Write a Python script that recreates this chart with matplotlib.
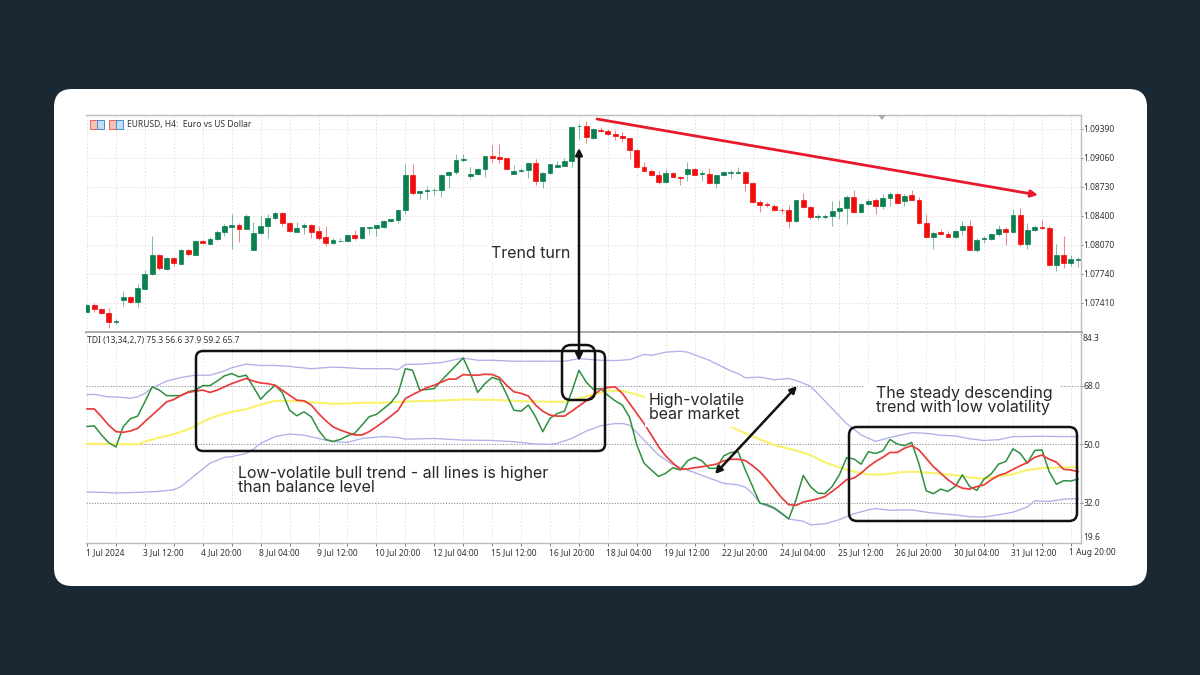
import matplotlib
matplotlib.use("Agg")
import matplotlib.pyplot as plt
from matplotlib.patches import FancyBboxPatch, FancyArrowPatch, Rectangle, Polygon
from matplotlib.transforms import ScaledTranslation
import numpy as np

W, H = 1200, 675

# EURUSD H4 candles, in points above 1.07000
opens = [311,383,346,296,194,440,474,418,573,736,956,793,922,858,1017,960,1119,1085,1142,1214,
         1279,1298,1256,1013,1210,1282,1377,1438,1320,1222,1271,1298,1225,1157,1093,1112,1119,1180,1146,1267,
         1267,1275,1343,1358,1472,1867,1665,1681,1692,1692,1867,1901,2041,1859,1878,1931,2079,2068,2060,1882,
         1908,1923,2003,1802,1885,1961,1973,2026,2420,2424,2291,2382,2367,2333,2307,2284,2155,1954,1916,1867,
         1783,1889,1848,1874,1939,1874,1878,1775,1863,1885,1893,1904,1775,1559,1533,1510,1472,1464,1343,1582,
         1502,1389,1389,1400,1457,1495,1620,1442,1537,1578,1510,1605,1650,1567,1635,1586,1320,1161,1214,1199,
         1161,1237,1282,1017,1138,1138,1191,1252,1218,1408,1085,1237,1275,1263,839,956,861,903]
closes = [391,342,292,194,205,482,418,577,744,956,808,926,861,1017,968,1119,1097,1142,1218,1282,
          1298,1248,1396,1210,1282,1381,1434,1317,1229,1267,1298,1222,1153,1089,1131,1119,1180,1146,1271,1275,
          1294,1347,1362,1468,1870,1665,1681,1700,1700,1867,1904,2041,2052,1878,1935,2079,2060,2052,1931,1908,
          1927,2003,1802,1889,1988,1977,2026,2416,2428,2295,2390,2367,2329,2310,2288,2155,1954,1916,1863,1783,
          1885,1840,1836,1939,1870,1885,1775,1863,1897,1897,1904,1775,1559,1529,1521,1464,1464,1343,1578,1506,
          1389,1400,1400,1457,1495,1620,1445,1533,1574,1510,1601,1647,1548,1628,1586,1320,1161,1210,1199,1165,
          1233,1282,1017,1131,1150,1191,1252,1214,1408,1085,1241,1275,1260,839,956,861,907,911]
highs = [395,410,357,353,224,543,486,630,782,1169,964,933,933,1024,1028,1127,1127,1161,1237,1313,
         1419,1320,1427,1328,1396,1419,1445,1445,1332,1332,1320,1305,1282,1282,1146,1153,1191,1244,1279,1275,
         1301,1354,1370,1476,1988,1988,1700,1738,1722,1874,1912,2102,2109,1958,1950,2086,2204,2223,2064,1984,
         1942,2014,2052,1897,1995,2026,2060,2428,2443,2477,2398,2413,2386,2382,2356,2291,2162,2014,1931,1908,
         1939,1901,1851,2014,1950,1927,1950,1870,1908,1927,1958,1912,1783,1578,1555,1533,1495,1529,1586,1662,
         1510,1419,1419,1571,1586,1635,1700,1548,1590,1601,1647,1673,1662,1654,1700,1616,1419,1225,1252,1225,
         1244,1343,1351,1150,1169,1207,1294,1275,1483,1487,1324,1301,1351,1290,1078,1176,952,933]
lows = [305,304,289,122,175,372,410,364,566,729,782,782,835,850,941,956,1089,1078,1131,1169,
        1024,1104,1248,1009,1199,1150,1370,1286,1218,1214,1191,1153,1131,1055,1078,1100,1112,1123,1138,1199,
        1176,1267,1335,1320,1427,1639,1597,1597,1635,1616,1722,1874,2014,1825,1870,1844,2014,2003,1927,1874,
        1897,1832,1749,1719,1882,1958,1965,1958,2280,2234,2280,2356,2322,2261,2242,2052,1946,1908,1855,1760,
        1775,1829,1757,1798,1863,1794,1768,1722,1851,1829,1882,1684,1552,1445,1502,1457,1427,1260,1332,1495,
        1370,1358,1370,1290,1366,1305,1438,1434,1521,1419,1480,1514,1540,1510,1578,1313,1153,1024,1191,1157,
        1153,1169,1009,987,1093,1131,1169,1070,1210,1055,1021,1225,1252,827,774,804,827,820]

# TDI pane, fast and slow lines have one value per bar
tdi_green = [55.5,55.7,52.9,50.5,49.2,55.4,57.9,58.7,63.1,67.7,66.7,65.0,65.0,65.0,66.2,66.7,68.1,68.1,69.5,71.1,
             71.8,70.8,71.3,67.7,63.9,66.2,68.2,65.9,60.5,58.8,60.0,58.5,54.4,51.5,50.9,51.5,52.6,53.4,55.9,58.5,
             59.2,61.0,62.8,65.7,73.3,72.8,66.7,66.9,67.2,69.7,72.0,74.3,76.6,71.8,66.0,68.7,70.6,69.9,65.4,60.5,
             60.2,62.1,58.5,53.9,58.0,59.5,60.2,66.2,72.8,69.2,66.9,67.2,65.1,63.4,62.1,58.3,49.8,44.2,42.1,40.1,
             41.1,42.8,42.1,44.9,46.0,44.9,42.6,42.6,46.4,47.5,47.7,42.1,37.0,31.9,31.4,30.4,28.8,27.0,32.9,40.4,
             37.0,35.0,34.8,37.0,40.6,45.9,45.5,43.9,47.7,47.2,48.0,51.5,50.1,49.6,50.6,44.0,35.7,34.8,36.2,35.5,
             37.0,40.6,37.0,35.8,39.3,40.9,43.9,44.7,48.6,47.2,44.2,48.1,48.3,41.6,37.7,38.8,38.7,39.3]
tdi_red = [60.9,60.9,58.5,55.9,53.9,53.7,54.1,54.9,57.0,59.0,61.0,63.1,63.8,65.1,66.0,66.4,66.7,66.0,66.7,67.7,
           68.7,69.5,70.3,69.5,68.9,68.7,68.2,66.7,65.1,63.6,63.4,62.1,59.5,57.3,55.4,54.4,53.6,52.9,52.9,53.9,
           55.4,57.0,58.7,60.5,64.1,65.3,66.4,67.5,68.2,69.2,70.1,70.1,71.5,71.3,71.3,71.6,71.5,70.6,68.2,66.2,
           65.7,64.9,62.1,60.2,59.0,58.7,58.7,60.2,61.8,63.4,65.1,66.9,67.5,67.7,65.7,62.6,59.5,56.4,52.9,49.3,
           46.4,44.2,42.3,42.4,42.8,43.1,43.5,43.9,44.9,45.4,45.4,45.0,43.4,41.6,39.1,36.3,33.6,31.4,31.2,32.2,
           32.7,33.2,33.9,35.5,37.2,39.1,39.6,41.1,43.1,44.7,46.0,47.5,47.5,48.8,49.6,48.3,45.7,43.1,41.1,39.1,
           37.5,36.5,36.2,37.0,37.5,39.1,40.4,41.1,42.3,43.4,44.4,46.0,46.7,45.4,44.5,42.3,42.1,41.6]

yellow_bars = [0,7,8,10,12,14,16,18,20,22,24,26,28,30,32,34,36,38,40,42,44,46,48,52,56,60,64,66,68,70,72,74,76,77,
               89,92,95,98,100,102,104,106,108,110,112,114,116,118,120,122,124,126,128,130,132,134,136,137]
tdi_yellow = [50.2,50.0,50.8,52.1,53.1,54.6,57.0,58.8,60.0,60.8,62.2,63.4,63.4,63.2,62.8,62.5,62.6,62.8,62.8,62.9,63.2,63.3,63.4,63.8,63.7,63.3,63.1,63.1,64.1,65.4,66.5,66.5,65.3,64.6,
              55.4,52.4,49.8,48.1,46.7,44.4,42.9,41.6,40.7,40.7,41.3,41.6,41.3,40.9,40.5,39.8,39.4,40.1,40.8,42.1,42.7,42.8,43.0,42.9]

upper_bars = [0,1,3,4,6,7,8,9,10,11,13,15,17,19,20,22,24,26,28,31,34,36,38,42,43,44,46,49,52,54,56,59,64,66,68,71,73,75,77,78,80,82,83,86,89,90,
              91,93,95,97,98,100,101,103,105,107,109,111,114,116,118,120,122,124,126,128,130,132,134,137]
tdi_upper = [65.3,65.4,64.6,64.6,64.2,64.6,65.7,67.5,68.4,69.5,70.6,71.3,71.3,72.6,73.6,74.7,74.3,74.3,74.0,73.3,73.8,73.6,73.3,73.3,73.0,74.6,74.7,75.2,76.6,75.9,75.9,75.6,75.6,75.6,76.4,75.9,75.8,76.1,77.7,77.4,78.4,78.7,78.4,75.9,72.6,71.8,
             70.5,70.7,69.9,70.3,69.7,67.9,65.7,61.0,56.4,52.9,50.9,52.1,53.6,53.4,52.8,52.6,51.7,51.2,51.4,52.4,52.4,52.5,52.4,52.4]

lower_bars = [0,2,4,7,10,12,13,15,17,19,20,22,23,24,26,28,30,32,34,36,38,41,43,44,46,48,52,56,59,62,64,65,67,69,71,73,74,75,77,79,81,83,86,88,90,
              91,92,93,95,97,99,100,102,104,106,108,109,111,114,116,118,120,122,124,126,128,130,131,133,135,137]
tdi_lower = [35.3,35.2,35.0,35.2,35.5,36.0,37.0,40.6,44.2,46.0,46.2,47.2,48.5,50.3,52.4,53.2,52.8,51.8,50.8,50.6,51.8,52.4,52.1,51.6,51.7,51.8,51.3,51.2,50.8,50.1,50.0,50.3,51.8,54.1,55.7,56.4,56.4,55.9,51.3,46.7,43.7,42.1,39.6,38.0,37.5,
             36.8,34.8,31.9,30.1,27.0,26.3,25.2,25.5,26.8,28.6,29.8,30.2,29.7,29.8,29.1,28.6,28.3,27.7,27.6,28.3,29.1,30.7,32.6,32.4,33.1,33.3]

price_ticks = [1.07410, 1.07740, 1.08070, 1.08400, 1.08730, 1.09060, 1.09390]
tdi_ticks = [32.0, 50.0, 68.0]
x_labels = ["1 Jul 2024", "3 Jul 12:00", "4 Jul 20:00", "8 Jul 04:00", "9 Jul 12:00", "10 Jul 20:00",
            "12 Jul 04:00", "15 Jul 12:00", "16 Jul 20:00", "18 Jul 04:00", "19 Jul 12:00", "22 Jul 20:00",
            "24 Jul 04:00", "25 Jul 12:00", "26 Jul 20:00", "30 Jul 04:00", "31 Jul 12:00", "1 Aug 20:00"]

BG = "#1a2834"
CANDLE_UP = "#0a7f4f"
CANDLE_DOWN = "#f20d0d"
GRID = "#e0e0e0"
FRAME = "#bdbdbd"
CHART_FONT = ["Noto Sans", "DejaVu Sans"]
NOTE_FONT = ["Inter", "DejaVu Sans"]
SMALL = 6.1


def px_axes(fig, x0, y0, x1, y1, **kw):
    return fig.add_axes([x0 / W, 1 - y1 / H, (x1 - x0) / W, (y1 - y0) / H], **kw)


fig = plt.figure(figsize=(W / 100, H / 100), dpi=100, facecolor=BG)

# card behind the panes
back = px_axes(fig, 0, 0, W, H, zorder=0)
back.set_xlim(0, W)
back.set_ylim(H, 0)
back.axis("off")
r = 18
back.add_patch(FancyBboxPatch((54 + r, 89 + r), 1093 - 2 * r, 497 - 2 * r, boxstyle=f"round,pad={r}",
                              fc="white", ec="none"))

ax1 = px_axes(fig, 86, 115, 1081, 332, zorder=1)
ax2 = px_axes(fig, 86, 333, 1081, 543, zorder=1)

bars = np.arange(len(opens))
xlim = (-0.14, 137.4)

# candles
o = 1.07 + np.array(opens) / 1e5
c = 1.07 + np.array(closes) / 1e5
hi = 1.07 + np.array(highs) / 1e5
lo = 1.07 + np.array(lows) / 1e5
colors = [CANDLE_UP if b >= a else CANDLE_DOWN for a, b in zip(o, c)]
ax1.vlines(bars, lo, hi, colors=colors, lw=0.75, alpha=0.5, zorder=3)
ax1.bar(bars, c - o, bottom=o, width=0.66, color=colors, edgecolor=colors, lw=0.5, zorder=4)
ax1.set_xlim(xlim)
ax1.set_ylim(1.0708, 1.09549)
ax1.set_yticks(price_ticks)
ax1.set_yticklabels([f"{p:.5f}" for p in price_ticks])

# TDI lines
ax2.plot(upper_bars, tdi_upper, color="#b0b0e8", lw=0.95, zorder=3)
ax2.plot(lower_bars, tdi_lower, color="#b0b0e8", lw=0.95, zorder=3)
ax2.plot(yellow_bars, tdi_yellow, color="#f8f36a", lw=1.5, zorder=3)
ax2.plot(bars, tdi_green, color="#2f8f3f", lw=1.1, zorder=4)
ax2.plot(bars, tdi_red, color="#ea3c3c", lw=1.25, zorder=5)
ax2.set_xlim(xlim)
ax2.set_ylim(19.6, 84.3)
ax2.set_yticks(tdi_ticks)
ax2.set_yticklabels([f"{v:.1f}" for v in tdi_ticks])

for ax in (ax1, ax2):
    ax.set_xticks(np.arange(0, 138, 4))
    ax.yaxis.tick_right()
    ax.tick_params(axis="y", length=1.5, width=0.7, color="#777777", pad=0.3, labelsize=SMALL, labelcolor="#333333")
    ax.tick_params(axis="x", length=2, width=0.7, color="#777777")
    for side, sp in ax.spines.items():
        sp.set_color(FRAME)
        sp.set_linewidth(1.0)
    ax.spines["left"].set_visible(False)
    ax.grid(axis="x", color=GRID, lw=0.7, ls=(0, (1.5, 2)), zorder=0)
    for t in ax.get_yticklabels():
        t.set_family(CHART_FONT)

ax1.grid(axis="y", color=GRID, lw=0.7, ls=(0, (1.5, 2)), zorder=0)
ax2.grid(axis="y", color="#8c8c8c", lw=0.7, ls=(0, (1.2, 1.6)), zorder=1)
ax1.tick_params(axis="x", length=0, labelbottom=False)
ax1.spines["bottom"].set_linewidth(2.0)
ax1.spines["bottom"].set_color("#a8a8a8")
ax2.spines["top"].set_visible(False)

ax2.set_xticks(np.arange(0, 138, 8), labels=x_labels, minor=False)
ax2.set_xticks(np.arange(4, 138, 8), minor=True)
ax2.tick_params(axis="x", which="major", length=2, pad=1.5, labelsize=SMALL, labelcolor="#333333")
ax2.tick_params(axis="x", which="minor", length=2, width=0.7, color="#777777")
ax2.grid(axis="x", which="minor", color=GRID, lw=0.7, ls=(0, (1.5, 2)), zorder=0)
nudge = ScaledTranslation(-1.5 / 100, 0, fig.dpi_scale_trans)
for t in ax2.get_xticklabels():
    t.set_family(CHART_FONT)
    t.set_ha("left")
    t.set_transform(t.get_transform() + nudge)

# overlay for the drawn-on notes, coordinates in pixels
top = px_axes(fig, 0, 0, W, H, zorder=5)
top.set_xlim(0, W)
top.set_ylim(H, 0)
top.axis("off")
top.patch.set_alpha(0)

top.text(1083, 338.5, "84.3", fontsize=SMALL, color="#333333", family=CHART_FONT, va="center")
top.text(1083, 538, "19.6", fontsize=SMALL, color="#333333", family=CHART_FONT, va="center")
top.text(127, 124, "EURUSD, H4:  Euro vs US Dollar", fontsize=SMALL, color="#333333", family=CHART_FONT, va="center")
top.text(87, 340, "TDI (13,34,2,7) 75.3 56.6 37.9 59.2 65.7", fontsize=SMALL, color="#333333", family=CHART_FONT,
         va="center")

# toolbar icons and the small shift marker
for x0 in (90, 109):
    top.add_patch(Rectangle((x0, 120), 7, 9, fc="#f7c0b8", ec="#e8655a", lw=0.7))
    top.add_patch(Rectangle((x0 + 7, 120), 7, 9, fc="#c5ddf2", ec="#3f8fd0", lw=0.7))
top.add_patch(Polygon([(878, 115), (886, 115), (882, 120)], fc="#aaaaaa", ec="none"))

# white patches behind the notes
for x0, y0, w, h in [(488, 244, 84, 18), (645, 390, 105, 37), (236, 463, 315, 35), (865, 384, 195, 33)]:
    top.add_patch(Rectangle((x0, y0), w, h, fc="white", ec="none"))

note = dict(family=NOTE_FONT, fontsize=11.5, color="#2b2727", va="center", linespacing=0.96)
top.text(491, 253, "Trend turn", **note)
top.text(649, 407.5, "High-volatile\nbear market", **note)
top.text(238, 480.5, "Low-volatile bull trend - all lines is higher\nthan balance level", **note)
top.text(876, 400.5, "The steady descending\ntrend with low volatility", **note)

# rounded frames
for x0, y0, x1, y1, rad in [(196, 351, 605, 451, 7), (562, 345, 595, 400, 9), (849, 427, 1077, 521, 8)]:
    top.add_patch(FancyBboxPatch((x0 + rad, y0 + rad), x1 - x0 - 2 * rad, y1 - y0 - 2 * rad,
                                 boxstyle=f"round,pad={rad}", fc="none", ec="#111111", lw=1.8))

# arrows
top.add_patch(FancyArrowPatch((579, 148), (579, 361), arrowstyle="<|-|>", mutation_scale=10, lw=1.8,
                              color="#111111", shrinkA=0, shrinkB=0))
top.add_patch(FancyArrowPatch((797, 386), (715, 474), arrowstyle="<|-|>", mutation_scale=10, lw=1.8,
                              color="#111111", shrinkA=0, shrinkB=0))
top.add_patch(FancyArrowPatch((597, 119), (1038, 195), arrowstyle="-|>", mutation_scale=10, lw=2.0,
                              color="#e8192c", shrinkA=0, shrinkB=0))

fig.savefig("out.png", dpi=100, facecolor=BG)
